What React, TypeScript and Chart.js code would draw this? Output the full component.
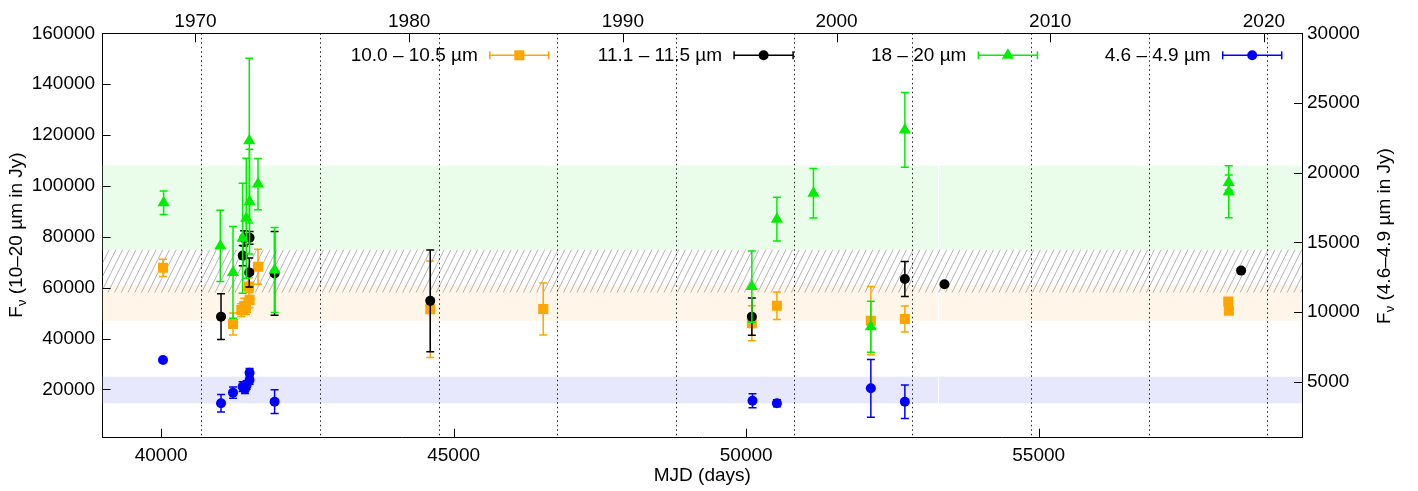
import React, { useEffect, useRef } from 'react';
import { Chart, registerables } from 'chart.js';

Chart.register(...registerables);

const FONT = '"Liberation Sans", Arial, Helvetica, sans-serif';

// axis ranges
const mjdRange = [39000, 59500];
const leftRange = [1000, 160000];
const rightRange = [1000, 30000];

// tick labels
const mjdTicks = [40000, 45000, 50000, 55000];
const yearTicks = [1970, 1980, 1990, 2000, 2010, 2020];
const leftTicks = [20000, 40000, 60000, 80000, 100000, 120000, 140000, 160000];
const rightTicks = [5000, 10000, 15000, 20000, 25000, 30000];

// 10.0 – 10.5 µm (left axis)
const n10Mjd = [40032, 41229, 41370, 41420, 41450, 41512, 41502, 41656, 44600, 46531, 50097, 50525, 52131, 52712, 58240, 58250];
const n10Flux = [67800, 45700, 51200, 52800, 51900, 55100, 60400, 68200, 51500, 51600, 46000, 52900, 47000, 47700, 54500, 50900];
const n10Err = [3400, 4300, 2500, 3000, 2500, 3000, 3500, 6900, 19000, 10200, 6900, 5400, 13400, 5100, 0, 0];

// 11.1 – 11.5 µm (left axis)
const n11Mjd = [41024, 41395, 41420, 41512, 41507, 41940, 44600, 50097, 52712, 53389, 58459];
const n11Flux = [48600, 72600, 79400, 79600, 66000, 65600, 54800, 48600, 63400, 61300, 66700];
const n11Err = [9000, 4000, 3000, 2500, 5700, 16500, 20000, 7300, 6900, 0, 0];

// 18 – 20 µm (left axis)
const q18Mjd = [40043, 41012, 41229, 41393, 41456, 41507, 41512, 41656, 41940, 50097, 50525, 51150, 52131, 52712, 58248, 58248];
const q18Flux = [93400, 76400, 66000, 79400, 87300, 117800, 93800, 100700, 66900, 60400, 86900, 97100, 44600, 122000, 101300, 97700];
const q18Err = [4600, 14000, 18000, 21600, 23600, 32400, 20600, 10100, 16700, 14000, 8600, 9700, 10000, 14700, 3000, 10200];

// 4.6 – 4.9 µm (right axis)
const m46Mjd = [40032, 41024, 41229, 41393, 41433, 41462, 41512, 41512, 41940, 50108, 50525, 52131, 52712];
const m46Flux = [6570, 3470, 4230, 4660, 4470, 4780, 5140, 5660, 3580, 3650, 3470, 4540, 3580];
const m46Err = [150, 620, 400, 350, 300, 300, 300, 300, 850, 500, 250, 2070, 1200];

const seriesLabels = ['10.0 – 10.5 µm', '11.1 – 11.5 µm', '18 – 20 µm', '4.6 – 4.9 µm'];
const seriesColors = ['#ffa500', '#000000', '#00ee00', '#0000ff'];
const seriesStyles = ['rect', 'circle', 'triangle', 'circle'];

// reference bands (left axis units)
const greenBand = [75000, 108000];
const hatchBand = [58000, 75000];
const orangeBand = [47000, 61000];
const blueBand = [14500, 25000];
const bandBreakMjd = 53281;
// dotted vertical lines (MJD)
const periodMjd = [40687, 42720, 44742, 46769, 48795, 50818, 52837, 54863, 56890, 58905];

const mjdToYear = (m: number) => 1970 + (m - 40587) / 365.25;

function markerPath(ctx: CanvasRenderingContext2D, style: string, x: number, y: number) {
  ctx.beginPath();
  if (style === 'rect') {
    ctx.rect(x - 5, y - 5, 10, 10);
  } else if (style === 'triangle') {
    ctx.moveTo(x, y - 7);
    ctx.lineTo(x + 6.06, y + 3.5);
    ctx.lineTo(x - 6.06, y + 3.5);
    ctx.closePath();
  } else {
    ctx.arc(x, y, 5, 0, Math.PI * 2);
  }
}

function drawRich(ctx: CanvasRenderingContext2D, segs: { t: string; s: number; dy: number }[], cx: number, cy: number, rot: number) {
  ctx.save();
  ctx.translate(cx, cy);
  ctx.rotate(rot);
  let total = 0;
  segs.forEach((g) => {
    ctx.font = `${g.s}px ${FONT}`;
    total += ctx.measureText(g.t).width;
  });
  let x = -total / 2;
  ctx.textAlign = 'left';
  ctx.textBaseline = 'middle';
  ctx.fillStyle = '#000';
  segs.forEach((g) => {
    ctx.font = `${g.s}px ${FONT}`;
    ctx.fillText(g.t, x, g.dy);
    x += ctx.measureText(g.t).width;
  });
  ctx.restore();
}

const customPlugin = {
  id: 'custom',
  beforeDatasetsDraw(chart: any) {
    const { ctx, chartArea: a, scales } = chart;
    const x = scales.x, y = scales.y;
    ctx.save();
    ctx.beginPath();
    ctx.rect(a.left, a.top, a.right - a.left, a.bottom - a.top);
    ctx.clip();
    const band = (r: number[], color: string) => {
      const y1 = y.getPixelForValue(r[1]);
      const y2 = y.getPixelForValue(r[0]);
      ctx.fillStyle = color;
      ctx.fillRect(a.left, y1, a.right - a.left, y2 - y1);
    };
    band(greenBand, '#eafdea');
    band(orangeBand, '#fff6e9');
    band(blueBand, '#e8e8fc');
    // white break
    const bx = Math.round(x.getPixelForValue(bandBreakMjd)) + 0.5;
    ctx.strokeStyle = '#ffffff';
    ctx.lineWidth = 1;
    ctx.beginPath();
    ctx.moveTo(bx, y.getPixelForValue(greenBand[1]));
    ctx.lineTo(bx, y.getPixelForValue(blueBand[0]));
    ctx.stroke();
    // hatch
    const yt = y.getPixelForValue(hatchBand[1]);
    const yb = y.getPixelForValue(hatchBand[0]);
    ctx.save();
    ctx.beginPath();
    ctx.rect(a.left, yt, a.right - a.left, yb - yt);
    ctx.clip();
    ctx.strokeStyle = '#b4b4b4';
    ctx.lineWidth = 1;
    const h = yb - yt;
    const k = 0.5;
    for (let x0 = a.left - h * k; x0 < a.right + 10; x0 += 6.7) {
      ctx.beginPath();
      ctx.moveTo(x0, yb);
      ctx.lineTo(x0 + h * k, yt);
      ctx.stroke();
    }
    ctx.restore();
    // dotted lines
    ctx.strokeStyle = '#222';
    ctx.lineWidth = 1;
    ctx.setLineDash([1.5, 3]);
    periodMjd.forEach((m) => {
      const px = Math.round(x.getPixelForValue(m)) + 0.5;
      ctx.beginPath();
      ctx.moveTo(px, a.top);
      ctx.lineTo(px, a.bottom);
      ctx.stroke();
    });
    ctx.setLineDash([]);
    ctx.restore();
  },
  beforeDatasetDraw(chart: any, args: any) {
    const ds = chart.data.datasets[args.index];
    const { ctx, scales } = chart;
    const x = scales.x;
    const y = scales[ds.yAxisID];
    ctx.save();
    ctx.strokeStyle = ds.backgroundColor;
    ctx.lineWidth = 1.5;
    ds.data.forEach((p: any, i: number) => {
      const e = ds.errors[i];
      if (!e) return;
      const px = x.getPixelForValue(p.x);
      const y1 = y.getPixelForValue(p.y + e);
      const y2 = y.getPixelForValue(p.y - e);
      ctx.beginPath();
      ctx.moveTo(px, y1);
      ctx.lineTo(px, y2);
      ctx.moveTo(px - 4, y1);
      ctx.lineTo(px + 4, y1);
      ctx.moveTo(px - 4, y2);
      ctx.lineTo(px + 4, y2);
      ctx.stroke();
    });
    ctx.restore();
  },
  afterDraw(chart: any) {
    const { ctx, chartArea: a, scales } = chart;
    ctx.save();
    ctx.strokeStyle = '#000';
    ctx.lineWidth = 1;
    const line = (x1: number, y1: number, x2: number, y2: number) => {
      ctx.beginPath();
      ctx.moveTo(x1, y1);
      ctx.lineTo(x2, y2);
      ctx.stroke();
    };
    leftTicks.forEach((v) => {
      const py = Math.round(scales.y.getPixelForValue(v)) + 0.5;
      line(a.left, py, a.left + 8, py);
    });
    rightTicks.forEach((v) => {
      const py = Math.round(scales.y2.getPixelForValue(v)) + 0.5;
      line(a.right - 8, py, a.right, py);
    });
    mjdTicks.forEach((v) => {
      const px = Math.round(scales.x.getPixelForValue(v)) + 0.5;
      line(px, a.bottom, px, a.bottom - 9);
    });
    yearTicks.forEach((v) => {
      const px = Math.round(scales.x2.getPixelForValue(v)) + 0.5;
      line(px, a.top, px, a.top + 9);
    });

    // legend
    const ly = a.top + 22;
    const lastStart = a.right - 79.3;
    for (let i = 0; i < 4; i++) {
      const sx = lastStart - (3 - i) * 244.3;
      const col = seriesColors[i];
      ctx.strokeStyle = col;
      ctx.fillStyle = col;
      ctx.lineWidth = 1.5;
      line(sx, ly, sx + 59, ly);
      line(sx, ly - 4, sx, ly + 4);
      line(sx + 59, ly - 4, sx + 59, ly + 4);
      markerPath(ctx, seriesStyles[i], sx + 29.5, ly);
      ctx.fill();
      ctx.fillStyle = '#000';
      ctx.font = `19px ${FONT}`;
      ctx.textAlign = 'right';
      ctx.textBaseline = 'middle';
      ctx.fillText(seriesLabels[i], sx - 12, ly);
    }

    // axis titles
    ctx.fillStyle = '#000';
    ctx.font = `19px ${FONT}`;
    ctx.textAlign = 'center';
    ctx.textBaseline = 'middle';
    ctx.fillText('MJD (days)', (a.left + a.right) / 2, 476);
    drawRich(ctx, [
      { t: 'F', s: 19, dy: 0 },
      { t: 'ν', s: 13, dy: 5 },
      { t: ' (10–20 µm in Jy)', s: 19, dy: 0 },
    ], 17, 235, -Math.PI / 2);
    drawRich(ctx, [
      { t: 'F', s: 19, dy: 0 },
      { t: 'ν', s: 13, dy: 5 },
      { t: ' (4.6–4.9 µm in Jy)', s: 19, dy: 0 },
    ], 1385, 236, -Math.PI / 2);
    ctx.restore();
  },
};

const mk = (xs: number[], ys: number[]) => xs.map((v, i) => ({ x: v, y: ys[i] }));

export default function App() {
  const ref = useRef<HTMLCanvasElement | null>(null);
  useEffect(() => {
    if (!ref.current) return;
    const tickFont = { family: FONT, size: 19 };
    const chart = new Chart(ref.current, {
      type: 'scatter',
      data: {
        datasets: [
          { label: seriesLabels[0], data: mk(n10Mjd, n10Flux), errors: n10Err, yAxisID: 'y', order: 4, backgroundColor: seriesColors[0], borderColor: seriesColors[0], pointStyle: 'rect', pointRadius: 7.1, borderWidth: 0, pointBorderWidth: 0 } as any,
          { label: seriesLabels[1], data: mk(n11Mjd, n11Flux), errors: n11Err, yAxisID: 'y', order: 3, backgroundColor: seriesColors[1], borderColor: seriesColors[1], pointStyle: 'circle', pointRadius: 5, borderWidth: 0, pointBorderWidth: 0 } as any,
          { label: seriesLabels[2], data: mk(q18Mjd, q18Flux), errors: q18Err, yAxisID: 'y', order: 2, backgroundColor: seriesColors[2], borderColor: seriesColors[2], pointStyle: 'triangle', pointRadius: 7, borderWidth: 0, pointBorderWidth: 0 } as any,
          { label: seriesLabels[3], data: mk(m46Mjd, m46Flux), errors: m46Err, yAxisID: 'y2', order: 1, backgroundColor: seriesColors[3], borderColor: seriesColors[3], pointStyle: 'circle', pointRadius: 5, borderWidth: 0, pointBorderWidth: 0 } as any,
        ],
      },
      options: {
        animation: false,
        responsive: false,
        maintainAspectRatio: false,
        devicePixelRatio: 1,
        layout: { padding: 0 },
        plugins: { legend: { display: false }, tooltip: { enabled: false } },
        scales: {
          x: {
            type: 'linear', position: 'bottom', min: mjdRange[0], max: mjdRange[1],
            grid: { display: false, drawTicks: false },
            border: { display: true, color: '#000', width: 1 },
            afterBuildTicks: (s: any) => { s.ticks = mjdTicks.map((v) => ({ value: v })); },
            afterFit: (s: any) => { s.height = 491 - 437.7; },
            ticks: { font: tickFont, color: '#000', padding: 7, maxRotation: 0, autoSkip: false, callback: (v: any) => String(v) },
          },
          x2: {
            type: 'linear', position: 'top', min: mjdToYear(mjdRange[0]), max: mjdToYear(mjdRange[1]),
            grid: { display: false, drawTicks: false },
            border: { display: true, color: '#000', width: 1 },
            afterBuildTicks: (s: any) => { s.ticks = yearTicks.map((v) => ({ value: v })); },
            afterFit: (s: any) => { s.height = 33.3; },
            ticks: { font: tickFont, color: '#000', padding: 0, maxRotation: 0, autoSkip: false, callback: (v: any) => String(v) },
          },
          y: {
            type: 'linear', position: 'left', min: leftRange[0], max: leftRange[1],
            grid: { display: false, drawTicks: false },
            border: { display: true, color: '#000', width: 1 },
            afterBuildTicks: (s: any) => { s.ticks = leftTicks.map((v) => ({ value: v })); },
            afterFit: (s: any) => { s.width = 102.6; },
            ticks: { font: tickFont, color: '#000', padding: 7.5, autoSkip: false, callback: (v: any) => String(v) },
          },
          y2: {
            type: 'linear', position: 'right', min: rightRange[0], max: rightRange[1],
            grid: { display: false, drawTicks: false },
            border: { display: true, color: '#000', width: 1 },
            afterBuildTicks: (s: any) => { s.ticks = rightTicks.map((v) => ({ value: v })); },
            afterFit: (s: any) => { s.width = 1418 - 1302; },
            ticks: { font: tickFont, color: '#000', padding: 5, autoSkip: false, callback: (v: any) => String(v) },
          },
        },
      } as any,
      plugins: [customPlugin],
    });
    return () => chart.destroy();
  }, []);
  return (
    <div style={{ position: 'fixed', left: 0, top: 0, width: 1418, height: 491, background: '#fff' }}>
      <canvas ref={ref} width={1418} height={491} style={{ width: 1418, height: 491, display: 'block' }} />
    </div>
  );
}
